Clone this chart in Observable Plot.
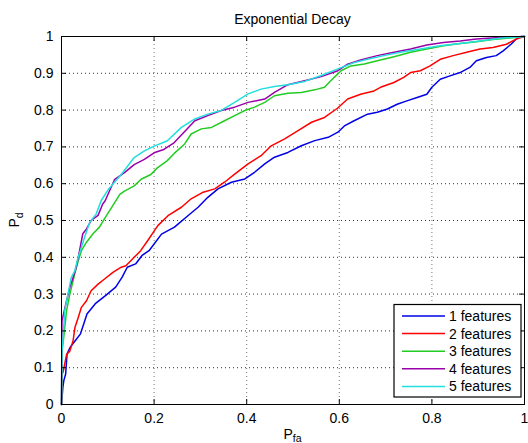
<!DOCTYPE html>
<html>
<head>
<meta charset="utf-8">
<script src="https://cdn.jsdelivr.net/npm/d3@7"></script>
<script src="https://cdn.jsdelivr.net/npm/@observablehq/plot@0.6"></script>
<style>
  html, body { margin: 0; padding: 0; background: #fff; }
  #chart { width: 528px; height: 443px; overflow: hidden; }
</style>
</head>
<body>
<div id="chart"></div>
<script>
// ---- data ----
const titleText = "Exponential Decay";
const seriesNames = ["1 features", "2 features", "3 features", "4 features", "5 features"];
const seriesColors = ["#0000e6", "#ff0000", "#22cc22", "#9a00aa", "#22dede"];
const xTicks = [0, 0.2, 0.4, 0.6, 0.8, 1];
const yTicks = [0, 0.1, 0.2, 0.3, 0.4, 0.5, 0.6, 0.7, 0.8, 0.9, 1];

const pfa1 = [0,0.003,0.005,0.009,0.012,0.019,0.030,0.041,0.048,0.055,0.073,0.095,0.117,0.131,0.142,0.160,0.174,0.189,0.216,0.244,0.273,0.295,0.316,0.338,0.367,0.396,0.417,0.439,0.460,0.489,0.518,0.547,0.576,0.597,0.611,0.632,0.661,0.682,0.704,0.725,0.746,0.768,0.789,0.800,0.818,0.839,0.861,0.882,0.896,0.918,0.939,0.954,0.971,0.982,0.993,1];
const pd1  = [0,0.047,0.065,0.083,0.138,0.156,0.174,0.192,0.219,0.246,0.274,0.296,0.319,0.346,0.373,0.382,0.405,0.418,0.463,0.482,0.513,0.536,0.563,0.586,0.604,0.613,0.631,0.654,0.672,0.685,0.703,0.717,0.726,0.740,0.757,0.771,0.789,0.794,0.803,0.816,0.825,0.834,0.843,0.862,0.884,0.893,0.902,0.916,0.934,0.943,0.948,0.961,0.979,0.993,1,1];

const pfa2 = [0,0.001,0.004,0.011,0.018,0.025,0.029,0.036,0.043,0.054,0.064,0.079,0.093,0.111,0.129,0.139,0.157,0.171,0.186,0.208,0.230,0.259,0.280,0.306,0.331,0.352,0.374,0.403,0.431,0.453,0.482,0.511,0.540,0.568,0.596,0.618,0.646,0.675,0.689,0.718,0.739,0.754,0.775,0.796,0.818,0.846,0.875,0.904,0.932,0.961,0.982,1];
const pd2  = [0,0.080,0.091,0.136,0.145,0.173,0.209,0.236,0.264,0.282,0.309,0.327,0.341,0.359,0.373,0.377,0.400,0.418,0.445,0.486,0.513,0.536,0.559,0.577,0.586,0.604,0.626,0.654,0.676,0.703,0.722,0.744,0.767,0.780,0.805,0.830,0.843,0.852,0.862,0.875,0.889,0.902,0.907,0.920,0.938,0.948,0.957,0.966,0.970,0.979,0.993,1];

const pfa3 = [0,0.001,0.004,0.007,0.011,0.018,0.025,0.032,0.043,0.054,0.068,0.082,0.093,0.108,0.126,0.136,0.157,0.172,0.193,0.207,0.228,0.244,0.266,0.280,0.302,0.324,0.352,0.374,0.396,0.417,0.439,0.460,0.489,0.518,0.547,0.568,0.589,0.604,0.625,0.654,0.682,0.718,0.754,0.789,0.825,0.861,0.896,0.932,0.968,1];
const pd3  = [0,0.145,0.173,0.209,0.255,0.300,0.336,0.373,0.418,0.441,0.464,0.482,0.505,0.535,0.571,0.580,0.594,0.612,0.625,0.643,0.662,0.683,0.708,0.735,0.749,0.753,0.771,0.785,0.799,0.808,0.821,0.839,0.846,0.848,0.855,0.862,0.889,0.907,0.920,0.925,0.934,0.945,0.957,0.966,0.975,0.981,0.986,0.992,0.996,1];

const pfa4 = [0,0.001,0.006,0.011,0.018,0.025,0.032,0.039,0.046,0.054,0.064,0.079,0.089,0.094,0.115,0.136,0.157,0.179,0.200,0.221,0.243,0.264,0.288,0.316,0.345,0.374,0.403,0.439,0.460,0.489,0.525,0.561,0.597,0.618,0.646,0.682,0.718,0.754,0.789,0.825,0.861,0.896,0.946,1];
const pd4  = [0,0.227,0.255,0.282,0.318,0.345,0.373,0.418,0.464,0.477,0.500,0.514,0.545,0.553,0.612,0.630,0.652,0.666,0.684,0.693,0.711,0.739,0.771,0.785,0.799,0.808,0.821,0.830,0.848,0.869,0.880,0.891,0.907,0.925,0.936,0.948,0.957,0.966,0.977,0.984,0.988,0.993,0.997,1];

const pfa5 = [0,0.001,0.004,0.007,0.014,0.021,0.029,0.036,0.043,0.050,0.061,0.075,0.086,0.101,0.129,0.157,0.179,0.200,0.228,0.259,0.288,0.316,0.345,0.374,0.403,0.431,0.460,0.489,0.525,0.561,0.597,0.632,0.661,0.696,0.732,0.775,0.818,0.861,0.904,0.946,1];
const pd5  = [0,0.145,0.191,0.255,0.300,0.345,0.364,0.400,0.427,0.455,0.495,0.518,0.555,0.584,0.625,0.671,0.689,0.702,0.716,0.753,0.776,0.789,0.799,0.821,0.844,0.857,0.864,0.869,0.878,0.894,0.912,0.929,0.938,0.948,0.957,0.966,0.975,0.981,0.988,0.995,1];

// ---- build table ----
const pfaList = [pfa1, pfa2, pfa3, pfa4, pfa5];
const pdList = [pd1, pd2, pd3, pd4, pd5];
const rows = [];
seriesNames.forEach((name, i) => {
  pfaList[i].forEach((x, j) => rows.push({series: name, x, y: pdList[i][j]}));
});

// ---- layout ----
const W = 528, H = 443;
const mL = 61, mR = 4, mT = 36, mB = 39;
const fw = W - mL - mR, fh = H - mT - mB;
const FONT = "'Liberation Sans', Arial, Helvetica, sans-serif";

const svg = Plot.plot({
  width: W, height: H,
  marginLeft: mL, marginRight: mR, marginTop: mT, marginBottom: mB,
  style: {fontFamily: FONT, fontSize: "14px", background: "#fff", color: "#000", overflow: "visible"},
  x: {domain: [0, 1]},
  y: {domain: [0, 1]},
  color: {domain: seriesNames, range: seriesColors},
  marks: [
    Plot.gridX(xTicks, {stroke: "#000", strokeOpacity: 0.55, strokeDasharray: "1,3"}),
    Plot.gridY(yTicks, {stroke: "#000", strokeOpacity: 0.8, strokeDasharray: "1,3"}),
    Plot.line(rows, {x: "x", y: "y", z: "series", stroke: "series", strokeWidth: 1.5}),
    Plot.tickX(xTicks, {x: d => d, insetTop: fh - 5, stroke: "#000"}),
    Plot.tickX(xTicks, {x: d => d, insetBottom: fh - 5, stroke: "#000"}),
    Plot.tickY(yTicks, {y: d => d, insetRight: fw - 5, stroke: "#000"}),
    Plot.tickY(yTicks, {y: d => d, insetLeft: fw - 5, stroke: "#000"}),
    Plot.frame({stroke: "#000", strokeWidth: 1}),
    Plot.axisX(xTicks, {tickSize: 0, tickPadding: 9, tickFormat: d => String(d), label: null, fontSize: 14}),
    Plot.axisY(yTicks, {tickSize: 0, tickPadding: 8, tickFormat: d => String(d), label: null, fontSize: 14})
  ]
});

const s = d3.select(svg);

// title
s.append("text")
  .attr("x", mL + fw / 2).attr("y", 23.5)
  .attr("text-anchor", "middle")
  .style("font-family", FONT).style("font-size", "14px").attr("fill", "#000")
  .text(titleText);

// x label P_fa
const xl = s.append("text")
  .attr("x", mL + fw / 2).attr("y", 438.5)
  .attr("text-anchor", "middle")
  .style("font-family", FONT).style("font-size", "14px").attr("fill", "#000");
xl.append("tspan").text("P");
xl.append("tspan").attr("dy", 3.5).style("font-size", "10.5px").text("fa");

// y label P_d
const yl = s.append("text")
  .attr("transform", `translate(19,${mT + fh / 2}) rotate(-90)`)
  .attr("text-anchor", "middle")
  .style("font-family", FONT).style("font-size", "14px").attr("fill", "#000");
yl.append("tspan").text("P");
yl.append("tspan").attr("dy", 4).style("font-size", "10.5px").text("d");

// legend
const lg = s.append("g");
const lx0 = 394, ly0 = 304.5, lw = 127, lh = 92.5, rowH = 17.6;
lg.append("rect").attr("x", lx0).attr("y", ly0).attr("width", lw).attr("height", lh)
  .attr("fill", "#fff").attr("stroke", "#000").attr("stroke-width", 1.2);
seriesNames.forEach((name, i) => {
  const cy = ly0 + 11.5 + i * rowH;
  lg.append("line").attr("x1", lx0 + 8).attr("x2", lx0 + 51).attr("y1", cy).attr("y2", cy)
    .attr("stroke", seriesColors[i]).attr("stroke-width", 1.5);
  lg.append("text").attr("x", lx0 + 55).attr("y", cy).attr("dy", "0.35em")
    .attr("text-anchor", "start")
    .style("font-family", FONT).style("font-size", "14px").attr("fill", "#000")
    .text(name);
});

document.getElementById("chart").appendChild(svg);
</script>
</body>
</html>
